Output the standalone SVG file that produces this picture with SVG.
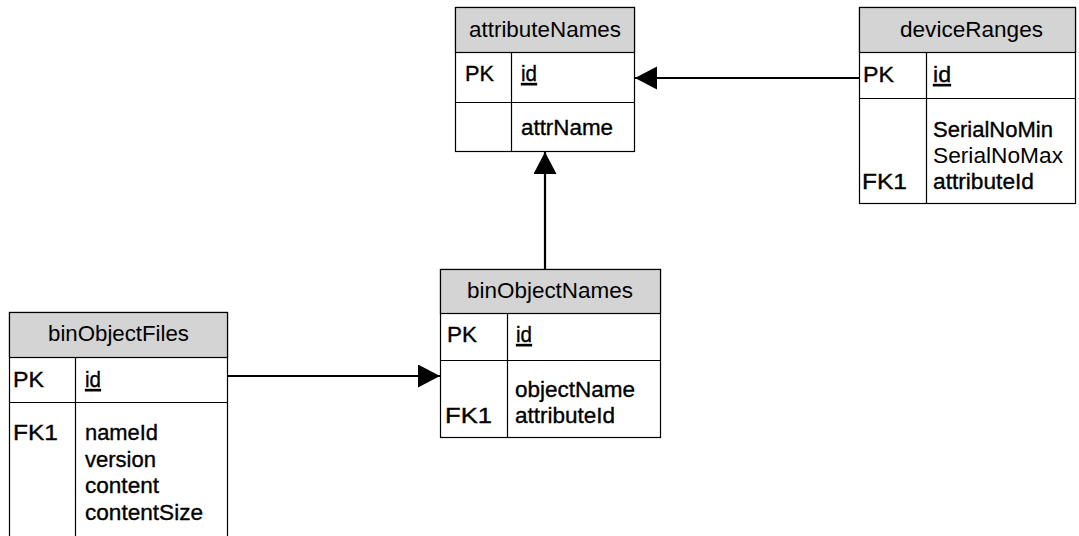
<svg xmlns="http://www.w3.org/2000/svg" width="1079" height="536" viewBox="0 0 1079 536">
<style>
.box{fill:#fff;stroke:#000;stroke-width:1.2}
.hdr{fill:#d4d4d4;stroke:#000;stroke-width:1.2}
.ln{stroke:#000;stroke-width:1.2;fill:none}
text{font-family:"Liberation Sans",Arial,sans-serif;font-size:22px;fill:#000}
.f{stroke:#000;stroke-width:0.35}
.u{text-decoration:underline}
.con{stroke:#000;stroke-width:2.2;fill:none;marker-end:url(#arr)}
</style>
<defs>
<marker id="arr" markerUnits="userSpaceOnUse" markerWidth="23" markerHeight="24" refX="22" refY="11.5" orient="auto">
<path d="M0,0 L22,11.5 L0,23 z" fill="#000"/>
</marker>
</defs>
<rect width="1079" height="536" fill="#fff"/>
<g id="attributeNames">
<rect class="box" x="455.5" y="7.5" width="179" height="144"/>
<rect class="hdr" x="455.5" y="7.5" width="179" height="45"/>
<line class="ln" x1="455.5" y1="102.5" x2="634.5" y2="102.5"/>
<line class="ln" x1="511.5" y1="52.5" x2="511.5" y2="151.5"/>
<text x="469" y="37" textLength="152" lengthAdjust="spacingAndGlyphs">attributeNames</text>
<text class="f" x="465" y="81" textLength="29" lengthAdjust="spacingAndGlyphs">PK</text>
<text class="f u" x="521" y="81" textLength="16" lengthAdjust="spacingAndGlyphs">id</text>
<text class="f" x="521" y="135" textLength="92" lengthAdjust="spacingAndGlyphs">attrName</text>
</g>
<g id="deviceRanges">
<rect class="box" x="859.5" y="7.5" width="216" height="196"/>
<rect class="hdr" x="859.5" y="7.5" width="216" height="45"/>
<line class="ln" x1="859.5" y1="98.5" x2="1075.5" y2="98.5"/>
<line class="ln" x1="926.5" y1="52.5" x2="926.5" y2="203.5"/>
<text x="900" y="37" textLength="143" lengthAdjust="spacingAndGlyphs">deviceRanges</text>
<text class="f" x="863" y="82" textLength="31" lengthAdjust="spacingAndGlyphs">PK</text>
<text class="f u" x="933" y="82" textLength="18" lengthAdjust="spacingAndGlyphs">id</text>
<text class="f" x="933" y="137" textLength="120" lengthAdjust="spacingAndGlyphs">SerialNoMin</text>
<text x="933" y="163" textLength="130" lengthAdjust="spacingAndGlyphs">SerialNoMax</text>
<text class="f" x="933" y="189" textLength="101" lengthAdjust="spacingAndGlyphs">attributeId</text>
<text class="f" x="862" y="189" textLength="45" lengthAdjust="spacingAndGlyphs">FK1</text>
</g>
<g id="binObjectNames">
<rect class="box" x="440.5" y="269.5" width="220" height="168"/>
<rect class="hdr" x="440.5" y="269.5" width="220" height="44"/>
<line class="ln" x1="440.5" y1="360.5" x2="660.5" y2="360.5"/>
<line class="ln" x1="507.5" y1="313.5" x2="507.5" y2="437.5"/>
<text x="467" y="298" textLength="166" lengthAdjust="spacingAndGlyphs">binObjectNames</text>
<text class="f" x="447" y="342" textLength="30" lengthAdjust="spacingAndGlyphs">PK</text>
<text class="f u" x="516" y="342" textLength="16" lengthAdjust="spacingAndGlyphs">id</text>
<text class="f" x="515" y="397" textLength="120" lengthAdjust="spacingAndGlyphs">objectName</text>
<text class="f" x="515" y="423" textLength="100" lengthAdjust="spacingAndGlyphs">attributeId</text>
<text class="f" x="445" y="423" textLength="47" lengthAdjust="spacingAndGlyphs">FK1</text>
</g>
<g id="binObjectFiles">
<rect class="box" x="9.5" y="312.5" width="218" height="240"/>
<rect class="hdr" x="9.5" y="312.5" width="218" height="45"/>
<line class="ln" x1="9.5" y1="402.5" x2="227.5" y2="402.5"/>
<line class="ln" x1="75.5" y1="357.5" x2="75.5" y2="552"/>
<text x="48" y="341" textLength="141" lengthAdjust="spacingAndGlyphs">binObjectFiles</text>
<text class="f" x="13" y="387" textLength="31" lengthAdjust="spacingAndGlyphs">PK</text>
<text class="f u" x="85" y="387" textLength="16" lengthAdjust="spacingAndGlyphs">id</text>
<text class="f" x="13" y="440" textLength="45" lengthAdjust="spacingAndGlyphs">FK1</text>
<text class="f" x="85" y="440" textLength="73" lengthAdjust="spacingAndGlyphs">nameId</text>
<text class="f" x="85" y="467" textLength="71" lengthAdjust="spacingAndGlyphs">version</text>
<text class="f" x="85" y="493" textLength="74" lengthAdjust="spacingAndGlyphs">content</text>
<text class="f" x="85" y="520" textLength="118" lengthAdjust="spacingAndGlyphs">contentSize</text>
</g>
<g id="connectors">
<line class="con" x1="859" y1="78" x2="635" y2="78"/>
<line class="con" x1="545" y1="269" x2="545" y2="152"/>
<line class="con" x1="227" y1="376" x2="440" y2="376"/>
</g>
</svg>
